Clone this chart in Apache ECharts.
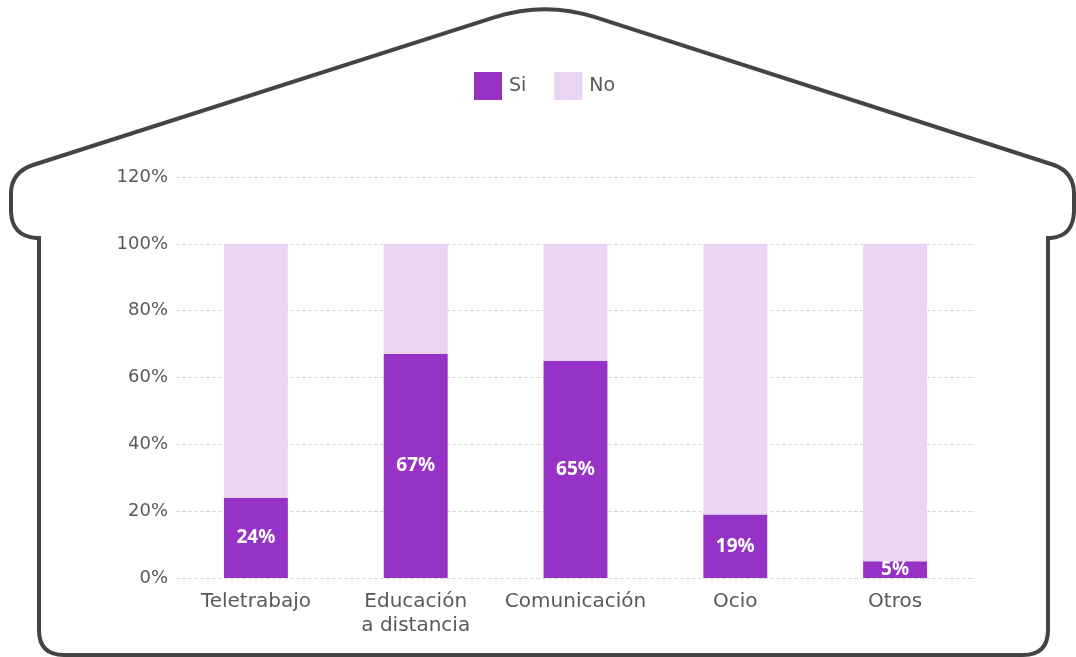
<!DOCTYPE html>
<html>
<head>
<meta charset="utf-8">
<title>Uso de Internet en el hogar</title>
<script src="https://cdn.jsdelivr.net/npm/echarts@6/dist/echarts.min.js"></script>
<style>
  html, body { margin: 0; padding: 0; background: #ffffff; }
  #chart { width: 1076px; height: 657px; }
</style>
</head>
<body>
<div id="chart"></div>
<script>
// Usage categories and share of households answering "Si" / "No"
const categories = ['Teletrabajo', 'Educación\na distancia', 'Comunicación', 'Ocio', 'Otros'];
const siValues = [24, 67, 65, 19, 5];
const noValues = [76, 33, 35, 81, 95];
const yTicks = { min: 0, max: 120, interval: 20 };

const textColor = '#595959';
const axisFont = '"DejaVu Sans", "Open Sans", sans-serif';
const valueFont = '"Noto Sans", "Open Sans", sans-serif';

// House-shaped frame drawn around the chart
const housePath =
  'M 39 630 L 39 238 L 36 238 Q 12 236 11 212 L 11 192 Q 12 172 33 165 ' +
  'L 495 17.2 Q 545 1.2 595 17.2 L 1054 165 Q 1073 172 1074 192 L 1074 212 ' +
  'Q 1073 236 1051 238 L 1048 238 L 1048 630 Q 1048 655 1023 655 ' +
  'L 64 655 Q 39 655 39 630 Z';
echarts.graphic.registerShape('houseFrame', echarts.graphic.extendPath(housePath, {}));

const chart = echarts.init(document.getElementById('chart'), null, { renderer: 'canvas' });

chart.setOption({
  animation: false,
  backgroundColor: '#ffffff',
  graphic: [{
    type: 'houseFrame',
    style: { fill: 'none', stroke: '#444444', lineWidth: 4 },
    z: 0
  }],
  legend: {
    top: 67,
    left: 469,
    itemWidth: 28,
    itemHeight: 28,
    itemGap: 28,
    icon: 'rect',
    textStyle: { color: textColor, fontSize: 19, fontFamily: axisFont, padding: [3, 0, 0, 2] },
    data: ['Si', 'No']
  },
  grid: { left: 176, right: 101, top: 177, bottom: 79, containLabel: false },
  xAxis: {
    type: 'category',
    data: categories,
    axisLine: { show: false },
    axisTick: { show: false },
    axisLabel: {
      color: textColor,
      fontSize: 20,
      fontFamily: axisFont,
      margin: 12,
      lineHeight: 24,
      interval: 0
    }
  },
  yAxis: {
    type: 'value',
    min: yTicks.min,
    max: yTicks.max,
    interval: yTicks.interval,
    axisLine: { show: false },
    axisTick: { show: false },
    axisLabel: {
      color: textColor,
      fontSize: 18,
      fontFamily: axisFont,
      margin: 8,
      formatter: '{value}%'
    },
    splitLine: { lineStyle: { color: '#d9d9d9', type: 'dashed', width: 1 } }
  },
  series: [
    {
      name: 'Si',
      type: 'bar',
      stack: 'total',
      barWidth: '40%',
      data: siValues,
      itemStyle: { color: '#9632C6' },
      label: {
        show: true,
        position: 'inside',
        formatter: '{c}%',
        color: '#ffffff',
        fontSize: 19,
        fontWeight: 'bold',
        fontFamily: valueFont
      }
    },
    {
      name: 'No',
      type: 'bar',
      stack: 'total',
      barWidth: '40%',
      data: noValues,
      itemStyle: { color: '#E9D5F2' }
    }
  ]
});
</script>
</body>
</html>
